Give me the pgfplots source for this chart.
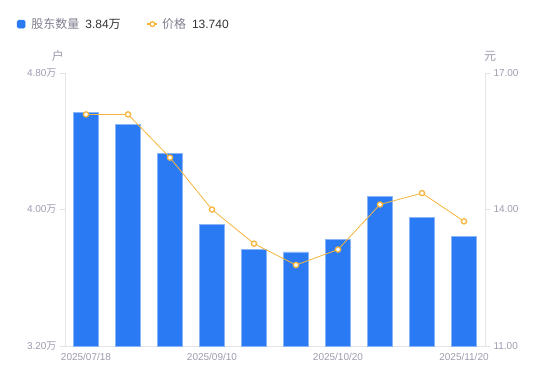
\documentclass[border=0pt]{standalone}
\usepackage{pgfplots}
\usepackage{pgfplotstable}
\pgfplotsset{compat=1.18}
\usepackage{fontspec}
\setmainfont{Liberation Sans}
\newfontfamily\cjk{Noto Sans CJK SC}
\definecolor{barblue}{HTML}{2A7AF4}
\definecolor{lineorange}{HTML}{F6B43C}
\definecolor{ticklab}{HTML}{9C9CAE}
\definecolor{axisgray}{HTML}{E3E3E8}
\definecolor{legtext}{HTML}{7F7F8F}
\definecolor{darktext}{HTML}{333333}

\pgfplotstableread{
x hold price
0 4.571 16.09
1 4.501 16.09
2 4.327 15.14
3 3.913 14.00
4 3.767 13.25
5 3.751 12.78
6 3.825 13.12
7 4.079 14.11
8 3.956 14.36
9 3.841 13.74
}\data

\pgfplotsset{base/.style={
  at={(65pt,35pt)}, anchor=south west, scale only axis,
  width=420pt, height=273pt,
  xmin=-0.5, xmax=9.5,
  axis line style={axisgray, line width=0.8pt},
  tick style={axisgray, line width=0.8pt},
  tick label style={font=\fontsize{10}{12}\selectfont, text=ticklab},
  major tick length=5pt,
  tick align=outside,
}}

\begin{document}
\begin{tikzpicture}[x=1pt,y=1pt]
\path (0,0) rectangle (550,381);

\begin{axis}[base,
  axis y line*=left, axis x line*=bottom,
  ymin=3.2, ymax=4.8,
  ytick={3.2,4.0,4.8},
  yticklabels={3.20{\cjk 万},4.00{\cjk 万},4.80{\cjk 万}},
  xtick={0,3,6,9},
  xticklabels={2025/07/18,2025/09/10,2025/10/20,2025/11/20},
  xtick style={draw=none},
  xticklabel style={yshift=1pt},
  ybar, bar width=25pt,
]
\addplot[fill=barblue, draw=barblue!55!white, line width=0.5pt] table[x=x,y=hold]{\data};
\end{axis}

\begin{axis}[base,
  axis y line*=right, axis x line=none,
  ymin=11, ymax=17,
  ytick={11,14,17},
  yticklabels={11.00,14.00,17.00},
  legend columns=-1,
  legend style={draw=none, fill=none, at={(-0.122,1.179)}, anchor=west,
    font=\fontsize{12}{14}\selectfont, text=legtext,
    /tikz/every even column/.append style={column sep=24pt}},
]
\addlegendimage{legend image code/.code={\fill[barblue, rounded corners=1.5pt] (0pt,-4pt) rectangle (8pt,4pt);}}
\addlegendentry{\hspace*{4pt}{\cjk 股东数量}\hspace{6pt}{\color{darktext}3.84{\cjk 万}}}
\addplot[lineorange, line width=0.8pt, mark=*, mark size=2.6pt,
  mark options={fill=white, draw=lineorange, line width=1.3pt},
  legend image code/.code={\draw[lineorange, line width=1.3pt] (0pt,0pt)--(10pt,0pt);
    \draw[lineorange, fill=white, line width=1.3pt] (5pt,0pt) circle (2.4pt);}]
  table[x=x,y=price]{\data};
\addlegendentry{\hspace*{2pt}{\cjk 价格}\hspace{6pt}{\color{darktext}13.740}}
\end{axis}

\node[text=ticklab, font=\fontsize{12}{14}\selectfont\cjk] at (58,325) {户};
\node[text=ticklab, font=\fontsize{12}{14}\selectfont\cjk] at (490,325) {元};
\end{tikzpicture}
\end{document}
